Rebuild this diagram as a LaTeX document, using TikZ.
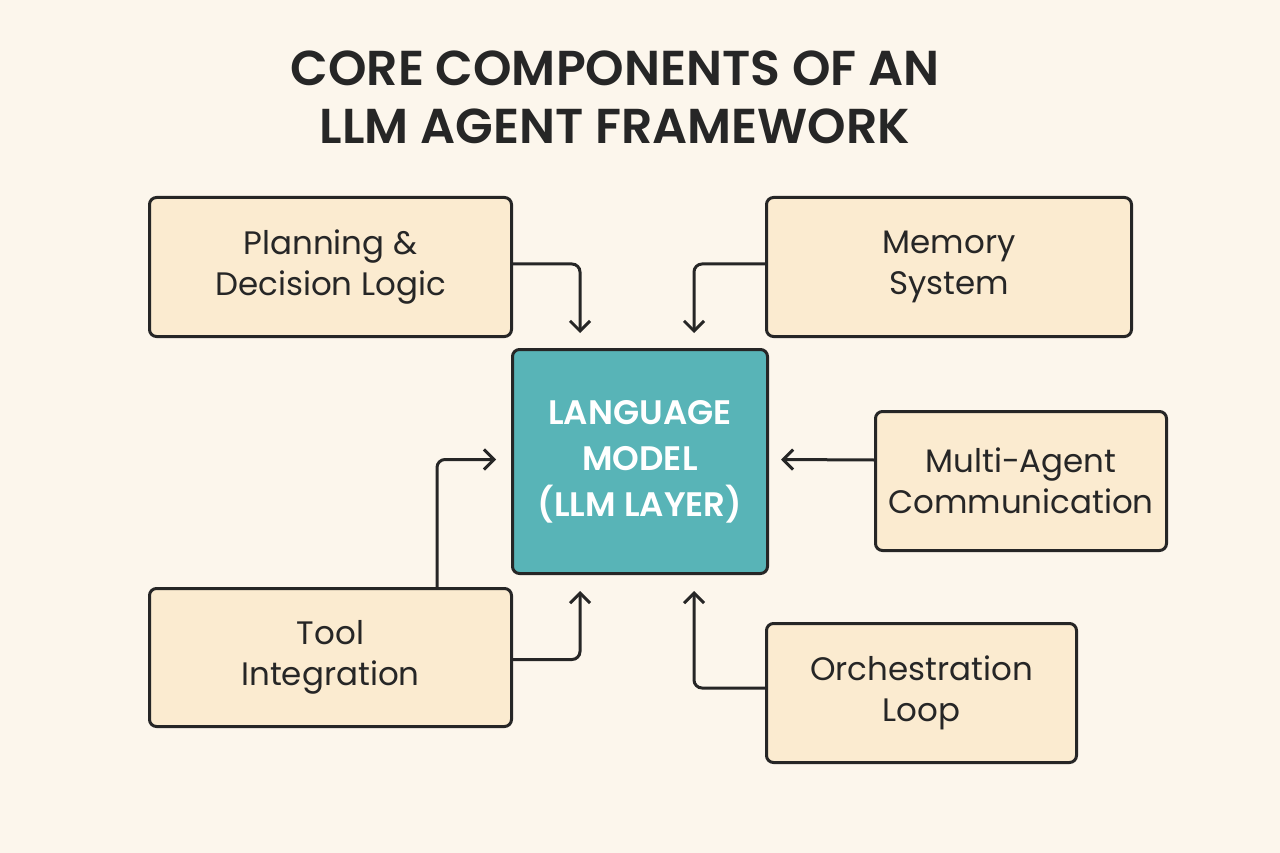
\documentclass[tikz,border=0pt]{standalone}
\usepackage{fontspec}
\setmainfont{Poppins}
\newfontfamily\semib{Poppins SemiBold}
\usetikzlibrary{arrows.meta}
\definecolor{bg}{HTML}{FCF6EC}
\definecolor{boxf}{HTML}{FBEBD0}
\definecolor{teal}{HTML}{58B4B7}
\definecolor{ink}{HTML}{262626}
\begin{document}
\begin{tikzpicture}[x=1pt,y=-1pt,
 box/.style={draw=ink,line width=3pt,rounded corners=7pt,fill=boxf,align=center,font=\fontsize{32.5}{41}\selectfont,text=ink,anchor=north west},
 arr/.style={draw=ink,line width=3pt,rounded corners=8pt,-{Straight Barb[length=10pt,width=20pt,line width=3pt]}}]
\fill[bg] (0,0) rectangle (1280,853);
\useasboundingbox (0,0) rectangle (1280,853);
\node[font=\fontsize{49}{58}\selectfont\semib,text=ink,align=center] (title) at (615,97) {CORE COMPONENTS OF AN\\LLM AGENT FRAMEWORK};
\node[box,minimum width=362pt,minimum height=139pt] (plan) at (148,196) {Planning \&\\Decision Logic};
\node[box,minimum width=365pt,minimum height=139pt] (mem) at (765,196) {Memory\\System};
\node[box,minimum width=255pt,minimum height=224pt,fill=teal,text=white,font=\fontsize{34}{46}\selectfont\semib] (llm) at (511,348) {LANGUAGE\\MODEL\\(LLM LAYER)};
\node[box,minimum width=291pt,minimum height=139pt] (multi) at (874,410) {Multi-Agent\\Communication};
\node[box,minimum width=362pt,minimum height=138pt] (tool) at (148,587) {Tool\\Integration};
\node[box,minimum width=310pt,minimum height=139pt] (orch) at (765,622) {Orchestration\\Loop};
\draw[arr] ([yshift=3pt]plan.east) -| ([xshift=-60pt,yshift=15pt]llm.north);
\draw[arr] ([yshift=3pt]mem.west) -| ([xshift=54pt,yshift=15pt]llm.north);
\draw[arr] ([yshift=21pt]multi.west) -- ([xshift=12pt,yshift=2pt]llm.east);
\draw[arr] ([xshift=289pt]tool.north west) |- ([xshift=-15pt,yshift=2pt]llm.west);
\draw[arr] ([yshift=-2pt]tool.east) -| ([xshift=-60pt,yshift=-16pt]llm.south);
\draw[arr] ([yshift=5pt]orch.west) -| ([xshift=54pt,yshift=-16pt]llm.south);
\end{tikzpicture}
\end{document}
